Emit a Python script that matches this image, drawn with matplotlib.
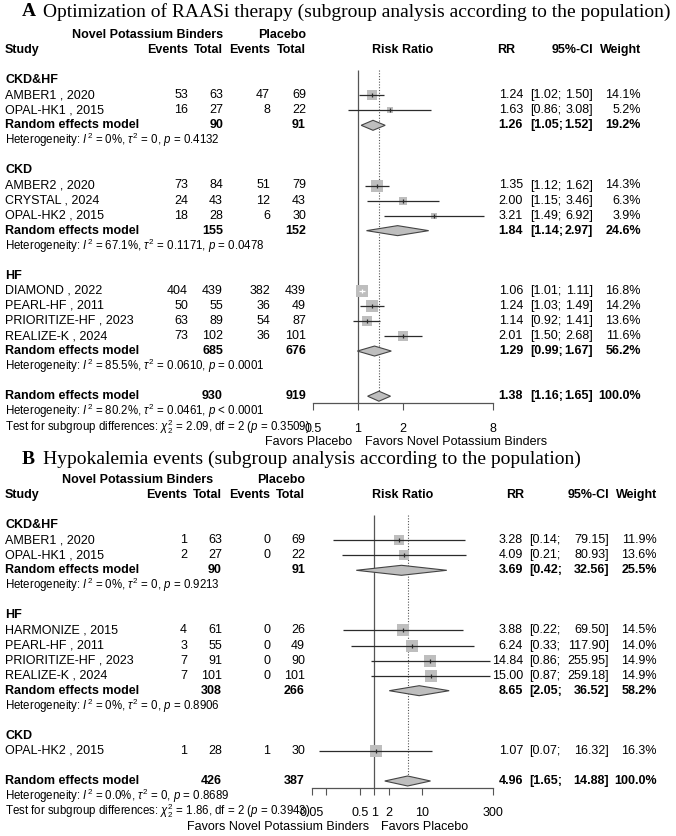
import numpy as np
import matplotlib
matplotlib.use("Agg")
import matplotlib.pyplot as plt
from matplotlib.patches import Polygon
from matplotlib.ticker import NullLocator

plt.rcParams['font.family'] = ['Liberation Sans', 'DejaVu Sans']
plt.rcParams['mathtext.fontset'] = 'custom'
plt.rcParams['mathtext.rm'] = 'Liberation Sans'
plt.rcParams['mathtext.it'] = 'Liberation Sans:italic'
plt.rcParams['mathtext.bf'] = 'Liberation Sans:bold'

# ---- panel A data ----
a_groups = ["CKD&HF", "CKD", "HF"]
a_studies = ["AMBER1 , 2020", "OPAL-HK1 , 2015", "AMBER2 , 2020", "CRYSTAL , 2024", "OPAL-HK2 , 2015",
             "DIAMOND , 2022", "PEARL-HF , 2011", "PRIORITIZE-HF , 2023", "REALIZE-K , 2024"]
a_group_of = ["CKD&HF", "CKD&HF", "CKD", "CKD", "CKD", "HF", "HF", "HF", "HF"]
a_ev_t = [53, 16, 73, 24, 18, 404, 50, 63, 73]
a_n_t = [63, 27, 84, 43, 28, 439, 55, 89, 102]
a_ev_c = [47, 8, 51, 12, 6, 382, 36, 54, 36]
a_n_c = [69, 22, 79, 43, 30, 439, 49, 87, 101]
a_rr = [1.24, 1.63, 1.35, 2.00, 3.21, 1.06, 1.24, 1.14, 2.01]
a_lo = [1.02, 0.86, 1.12, 1.15, 1.49, 1.01, 1.03, 0.92, 1.50]
a_hi = [1.50, 3.08, 1.62, 3.46, 6.92, 1.11, 1.49, 1.41, 2.68]
a_w = [14.1, 5.2, 14.3, 6.3, 3.9, 16.8, 14.2, 13.6, 11.6]

a_sub_names = ["CKD&HF", "CKD", "HF"]
a_sub_nt = [90, 155, 685]
a_sub_nc = [91, 152, 676]
a_sub_rr = [1.26, 1.84, 1.29]
a_sub_lo = [1.05, 1.14, 0.99]
a_sub_hi = [1.52, 2.97, 1.67]
a_sub_w = [19.2, 24.6, 56.2]
a_sub_i2 = ["0%", "67.1%", "85.5%"]
a_sub_tau2 = ["0", "0.1171", "0.0610"]
a_sub_p = ["= 0.4132", "= 0.0478", "= 0.0001"]

a_all = dict(nt=930, nc=919, rr=1.38, lo=1.16, hi=1.65, w=100.0,
             i2="80.2%", tau2="0.0461", p="< 0.0001", chi2="2.09", df=2, pq="0.3509")
a_ticks = [0.5, 1, 2, 8]
a_ticklabels = ["0.5", "1", "2", "8"]

# ---- panel B data ----
b_groups = ["CKD&HF", "HF", "CKD"]
b_studies = ["AMBER1 , 2020", "OPAL-HK1 , 2015", "HARMONIZE , 2015", "PEARL-HF , 2011",
             "PRIORITIZE-HF , 2023", "REALIZE-K , 2024", "OPAL-HK2 , 2015"]
b_group_of = ["CKD&HF", "CKD&HF", "HF", "HF", "HF", "HF", "CKD"]
b_ev_t = [1, 2, 4, 3, 7, 7, 1]
b_n_t = [63, 27, 61, 55, 91, 101, 28]
b_ev_c = [0, 0, 0, 0, 0, 0, 1]
b_n_c = [69, 22, 26, 49, 90, 101, 30]
b_rr = [3.28, 4.09, 3.88, 6.24, 14.84, 15.00, 1.07]
b_lo = [0.14, 0.21, 0.22, 0.33, 0.86, 0.87, 0.07]
b_hi = [79.15, 80.93, 69.50, 117.90, 255.95, 259.18, 16.32]
b_w = [11.9, 13.6, 14.5, 14.0, 14.9, 14.9, 16.3]

b_sub_names = ["CKD&HF", "HF"]
b_sub_nt = [90, 308]
b_sub_nc = [91, 266]
b_sub_rr = [3.69, 8.65]
b_sub_lo = [0.42, 2.05]
b_sub_hi = [32.56, 36.52]
b_sub_w = [25.5, 58.2]
b_sub_i2 = ["0%", "0%"]
b_sub_tau2 = ["0", "0"]
b_sub_p = ["= 0.9213", "= 0.8906"]

b_all = dict(nt=426, nc=387, rr=4.96, lo=1.65, hi=14.88, w=100.0,
             i2="0.0%", tau2="0", p="= 0.8689", chi2="1.86", df=2, pq="0.3943")
b_ticks = [0.05, 0.1, 0.5, 1, 2, 10, 300]
b_ticklabels = ["0.05", "", "0.5", "1", "2", "10", "300"]

W, H = 676, 836
fig = plt.figure(figsize=(W / 100, H / 100), dpi=100)
tx = fig.add_axes([0, 0, 1, 1])
tx.set_xlim(0, W)
tx.set_ylim(H, 0)
tx.axis('off')

FS = 9.0
HFS = 8.3
TS = 14
STEP = 15.05
LINE = '#2b2b2b'
BOX = '#BEBEBE'


def forest_axes(x0, x1, lim, y_top, y_bot):
    ax = fig.add_axes([x0 / W, 1 - y_bot / H, (x1 - x0) / W, (y_bot - y_top) / H])
    ax.set_xscale('log')
    ax.set_xlim(*lim)
    ax.set_ylim(y_bot, y_top)
    ax.patch.set_alpha(0)
    for s in ['top', 'right', 'left']:
        ax.spines[s].set_visible(False)
    ax.set_yticks([])
    return ax


def diamond(ax, y, est, lo, hi):
    ax.add_patch(Polygon([[lo, y], [est, y - 5], [hi, y], [est, y + 5]], closed=True,
                         facecolor=BOX, edgecolor='#444444', lw=0.8, zorder=3))


def ci_text(y, lo, hi, c, bold=False):
    wt = 'bold' if bold else 'normal'
    tx.text(c['ci_l'], y, "[%.2f;" % lo, ha='left', va='center', fontsize=FS, weight=wt)
    tx.text(c['ci_r'], y, "%.2f]" % hi, ha='right', va='center', fontsize=FS, weight=wt)


def het_text(y, i2, tau2, p):
    tx.text(5, y, r"Heterogeneity: $I^2$ = %s, $\tau^2$ = %s, $p$ %s" % (i2, tau2, p),
            ha='left', va='center', fontsize=HFS)


def draw_panel(ax, y_head, c, groups, studies, group_of, ev_t, n_t, ev_c, n_c, rr, lo, hi, w,
               sub_names, sub_nt, sub_nc, sub_rr, sub_lo, sub_hi, sub_w, sub_i2, sub_tau2, sub_p,
               tot, ticks, ticklabels, left_lab, right_lab):
    # header
    tx.text(c['grp_r'], y_head, "Novel Potassium Binders", ha='right', va='center', fontsize=FS, weight='bold')
    tx.text(c['nc'], y_head, "Placebo", ha='right', va='center', fontsize=FS, weight='bold')
    y1 = y_head + STEP
    tx.text(5, y1, "Study", ha='left', va='center', fontsize=FS, weight='bold')
    for key, lab in [('et', 'Events'), ('nt', 'Total'), ('ec', 'Events'), ('nc', 'Total')]:
        tx.text(c[key], y1, lab, ha='right', va='center', fontsize=FS, weight='bold')
    ax.text(np.sqrt(ax.get_xlim()[0] * ax.get_xlim()[1]), y1, "Risk Ratio", ha='center', va='center',
            fontsize=FS, weight='bold')
    tx.text(c['rr_h'], y1, "RR", ha='center', va='center', fontsize=FS, weight='bold')
    tx.text(c['ci_r'], y1, "95%-CI", ha='right', va='center', fontsize=FS, weight='bold')
    tx.text(c['w'], y1, "Weight", ha='right', va='center', fontsize=FS, weight='bold')

    wmax = max(w)
    y = y1 + 2 * STEP
    y_first = y
    for g in groups:
        tx.text(5, y, g, ha='left', va='center', fontsize=FS, weight='bold')
        for i in [k for k in range(len(studies)) if group_of[k] == g]:
            y += STEP
            tx.text(5, y, studies[i], ha='left', va='center', fontsize=FS)
            tx.text(c['et'], y, str(ev_t[i]), ha='right', va='center', fontsize=FS)
            tx.text(c['nt'], y, str(n_t[i]), ha='right', va='center', fontsize=FS)
            tx.text(c['ec'], y, str(ev_c[i]), ha='right', va='center', fontsize=FS)
            tx.text(c['nc'], y, str(n_c[i]), ha='right', va='center', fontsize=FS)
            tx.text(c['rr'], y, "%.2f" % rr[i], ha='right', va='center', fontsize=FS)
            ci_text(y, lo[i], hi[i], c)
            tx.text(c['w'], y, "%.1f%%" % w[i], ha='right', va='center', fontsize=FS)
            side = 12 * np.sqrt(w[i] / wmax)
            ax.scatter([rr[i]], [y], marker='s', s=(side * 0.72) ** 2, color=BOX, lw=0, zorder=2)
            # line colour inside the box goes white when the CI fits inside it
            inside = ax.transData.transform((hi[i], y))[0] - ax.transData.transform((lo[i], y))[0] < side
            lc = 'white' if inside else LINE
            ax.hlines(y, lo[i], hi[i], color=lc, lw=0.9, zorder=3)
            ax.vlines(rr[i], y - 2, y + 2, color=lc, lw=0.9, zorder=3)
        if g in sub_names:
            j = sub_names.index(g)
            y += STEP
            tx.text(5, y, "Random effects model", ha='left', va='center', fontsize=FS, weight='bold')
            tx.text(c['nt'], y, str(sub_nt[j]), ha='right', va='center', fontsize=FS, weight='bold')
            tx.text(c['nc'], y, str(sub_nc[j]), ha='right', va='center', fontsize=FS, weight='bold')
            tx.text(c['rr'], y, "%.2f" % sub_rr[j], ha='right', va='center', fontsize=FS, weight='bold')
            ci_text(y, sub_lo[j], sub_hi[j], c, bold=True)
            tx.text(c['w'], y, "%.1f%%" % sub_w[j], ha='right', va='center', fontsize=FS, weight='bold')
            diamond(ax, y, sub_rr[j], sub_lo[j], sub_hi[j])
            y += STEP
            het_text(y, sub_i2[j], sub_tau2[j], sub_p[j])
        y += 2 * STEP

    # overall
    tx.text(5, y, "Random effects model", ha='left', va='center', fontsize=FS, weight='bold')
    tx.text(c['nt'], y, str(tot['nt']), ha='right', va='center', fontsize=FS, weight='bold')
    tx.text(c['nc'], y, str(tot['nc']), ha='right', va='center', fontsize=FS, weight='bold')
    tx.text(c['rr'], y, "%.2f" % tot['rr'], ha='right', va='center', fontsize=FS, weight='bold')
    ci_text(y, tot['lo'], tot['hi'], c, bold=True)
    tx.text(c['w'], y, "%.1f%%" % tot['w'], ha='right', va='center', fontsize=FS, weight='bold')
    diamond(ax, y, tot['rr'], tot['lo'], tot['hi'])
    het_text(y + STEP, tot['i2'], tot['tau2'], tot['p'])
    tx.text(5, y + 2 * STEP, r"Test for subgroup differences: $\chi^2_%d$ = %s, df = %d ($p$ = %s)"
            % (tot['df'], tot['chi2'], tot['df'], tot['pq']), ha='left', va='center', fontsize=HFS)

    top = y_first - 10
    axis_y = y + 7
    ax.vlines(1, top, axis_y, color='#555555', lw=0.9, zorder=1)
    ax.vlines(tot['rr'], top, y - 5, color='#555555', lw=0.8, linestyles=(0, (1, 1.5)), zorder=1)

    ax.spines['bottom'].set_position(('data', axis_y))
    ax.spines['bottom'].set_color('#555555')
    ax.spines['bottom'].set_linewidth(0.9)
    ax.set_xticks(ticks)
    ax.set_xticklabels(ticklabels)
    ax.xaxis.set_minor_locator(NullLocator())
    ax.tick_params(axis='x', direction='out', length=5, width=0.8, color='#555555',
                   labelsize=FS, pad=9)
    fy = axis_y + 39
    ax.annotate(left_lab, (1, fy), xytext=(-4, 0), textcoords='offset points',
                ha='right', va='center', fontsize=FS, annotation_clip=False)
    ax.annotate(right_lab, (1, fy), xytext=(5, 0), textcoords='offset points',
                ha='left', va='center', fontsize=FS, annotation_clip=False)


# titles
tx.text(22, 12, "A", ha='left', va='center', fontsize=TS, weight='bold', fontfamily='Liberation Serif')
tx.text(43, 12, "Optimization of RAASi therapy (subgroup analysis according to the population)",
        ha='left', va='center', fontsize=TS, fontfamily='Liberation Serif')
tx.text(22, 459, "B", ha='left', va='center', fontsize=TS, weight='bold', fontfamily='Liberation Serif')
tx.text(43, 459, "Hypokalemia events (subgroup analysis according to the population)",
        ha='left', va='center', fontsize=TS, fontfamily='Liberation Serif')

cols_a = dict(grp_r=223, et=188, nt=223, ec=270, nc=306, rr=523, rr_h=506, ci_l=530, ci_r=593, w=641)
cols_b = dict(grp_r=213, et=187, nt=222, ec=270, nc=305, rr=523, rr_h=515, ci_l=529, ci_r=609, w=657)

ax_a = forest_axes(313, 493, (0.5, 8), 40, 450)
draw_panel(ax_a, 35, cols_a, a_groups, a_studies, a_group_of, a_ev_t, a_n_t, a_ev_c, a_n_c,
           a_rr, a_lo, a_hi, a_w, a_sub_names, a_sub_nt, a_sub_nc, a_sub_rr, a_sub_lo, a_sub_hi,
           a_sub_w, a_sub_i2, a_sub_tau2, a_sub_p, a_all, a_ticks, a_ticklabels,
           "Favors Placebo", "Favors Novel Potassium Binders")

ax_b = forest_axes(312, 493, (0.05, 300), 485, 836)
draw_panel(ax_b, 480, cols_b, b_groups, b_studies, b_group_of, b_ev_t, b_n_t, b_ev_c, b_n_c,
           b_rr, b_lo, b_hi, b_w, b_sub_names, b_sub_nt, b_sub_nc, b_sub_rr, b_sub_lo, b_sub_hi,
           b_sub_w, b_sub_i2, b_sub_tau2, b_sub_p, b_all, b_ticks, b_ticklabels,
           "Favors Novel Potassium Binders", "Favors Placebo")

fig.savefig("out.png", dpi=100)
